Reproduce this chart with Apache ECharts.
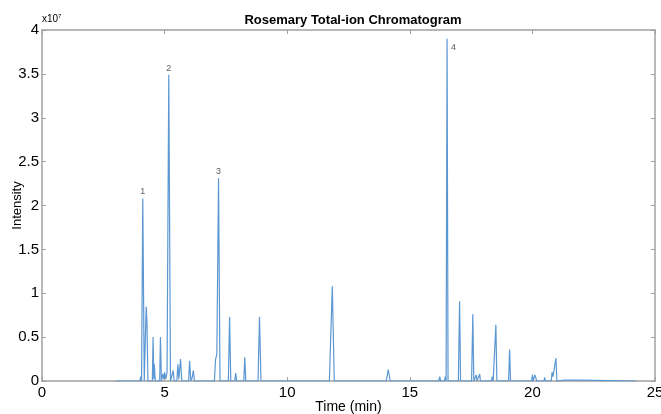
<!DOCTYPE html>
<html>
<head>
<meta charset="utf-8">
<script src="https://cdn.jsdelivr.net/npm/echarts@6/dist/echarts.min.js"></script>
<style>html,body{margin:0;padding:0;background:#fff}#c{width:661px;height:414px}</style>
</head>
<body>
<div id="c"></div>
<script>
// Retention time (min) and intensity (x10^7)
const retentionTime = [
  3.00, 4.00, 4.02, 4.06, 4.11, 4.17, 4.25, 4.28, 4.32, 4.50, 4.53, 4.56, 4.58, 4.62,
  4.80, 4.83, 4.87, 4.93, 4.97, 5.00, 5.05, 5.10, 5.17, 5.24, 5.32, 5.35, 5.39,
  5.50, 5.54, 5.58, 5.65, 5.70, 5.98, 6.02, 6.07, 6.12, 6.17, 6.22, 6.60, 6.63, 6.66,
  7.03, 7.08, 7.13, 7.20, 7.26, 7.60, 7.65, 7.70, 7.86, 7.90, 7.94, 8.23, 8.27, 8.31,
  8.81, 8.87, 8.93, 11.72, 11.84, 11.92, 14.04, 14.12, 14.20,
  16.18, 16.22, 16.26, 16.41, 16.45, 16.48, 16.52, 16.56,
  16.98, 17.03, 17.07, 17.52, 17.57, 17.61, 17.68, 17.71, 17.74, 17.82, 17.85, 17.88,
  18.33, 18.36, 18.40, 18.47, 18.51, 18.55, 18.70, 18.73, 18.76,
  19.03, 19.07, 19.11, 19.30, 19.33, 19.36, 19.49, 19.52, 19.55,
  19.97, 20.00, 20.03, 20.10, 20.14, 20.18, 20.47, 20.50, 20.53,
  20.68, 20.71, 20.74, 20.77, 20.80, 20.84, 20.96, 21.00, 21.30, 21.35, 22.00, 22.05, 24.25
];
const intensityE7 = [
  0, 0, 0.05, 0, 2.08, 0, 0.85, 0.67, 0, 0, 0.50, 0.02, 0.19, 0,
  0, 0.50, 0, 0.08, 0.02, 0.10, 0.02, 0.10, 3.49, 0, 0, 0.12, 0,
  0, 0.19, 0.02, 0.25, 0, 0, 0.23, 0, 0.03, 0.12, 0, 0, 0.01, 0,
  0, 0.25, 0.30, 2.31, 0, 0, 0.73, 0, 0, 0.09, 0, 0, 0.27, 0,
  0, 0.73, 0, 0, 1.08, 0, 0, 0.13, 0,
  0, 0.05, 0, 0, 0.05, 0, 3.90, 0,
  0, 0.91, 0, 0, 0.76, 0, 0, 0.07, 0, 0, 0.08, 0,
  0, 0.05, 0, 0, 0.64, 0, 0, 0.02, 0,
  0, 0.36, 0, 0, 0.02, 0, 0, 0.02, 0,
  0, 0.07, 0, 0.07, 0.08, 0, 0, 0.04, 0,
  0, 0.02, 0, 0, 0.10, 0.05, 0.26, 0, 0.01, 0, 0.01, 0, 0
];
// Numbered peak annotations
const peakNames = ['1', '2', '3', '4'];
const peakTimes = [4.11, 5.17, 7.20, 16.52];
const peakHeights = [2.08, 3.49, 2.31, 3.90];

const xTicks = [0, 5, 10, 15, 20, 25];
const yTicks = [0, 0.5, 1, 1.5, 2, 2.5, 3, 3.5, 4];

const lineData = retentionTime.map((t, i) => [t, intensityE7[i]]);
const labelData = peakTimes.map((t, i) => {
  const d = { value: [t, peakHeights[i]], name: peakNames[i] };
  if (peakNames[i] === '4') d.label = { position: 'right', distance: 4, offset: [0, 9] };
  return d;
});

const FONT = 'Liberation Sans, Arial, sans-serif';
const axisGrey = '#a0a0a0';

const chart = echarts.init(document.getElementById('c'), null, { renderer: 'canvas' });
chart.setOption({
  animation: false,
  backgroundColor: '#fff',
  title: {
    text: 'Rosemary Total-ion Chromatogram',
    left: 348, top: 9, textAlign: 'center',
    textStyle: { fontFamily: FONT, fontSize: 13, fontWeight: 'bold', color: '#000' }
  },
  graphic: [{
    type: 'text', left: 42, top: 13,
    style: {
      text: '{b|x10}{s|7}',
      rich: {
        b: { fontFamily: FONT, fontSize: 10, fill: '#000', verticalAlign: 'bottom' },
        s: { fontFamily: FONT, fontSize: 6, fill: '#000', verticalAlign: 'top', padding: [0, 0, 5, 0] }
      }
    }
  }],
  grid: { left: 42, right: 6, top: 30, bottom: 33, show: false, containLabel: false, outerBoundsMode: 'none' },
  xAxis: [{
    type: 'value', min: 0, max: 25, interval: 5,
    name: 'Time (min)', nameLocation: 'middle', nameGap: 19, nameMoveOverlap: false,
    nameTextStyle: { fontFamily: FONT, fontSize: 14, color: '#000' },
    axisLine: { show: true, onZero: false, lineStyle: { color: axisGrey, width: 1.5 } },
    axisTick: { show: true, inside: true, length: 4, lineStyle: { color: axisGrey } },
    axisLabel: { fontFamily: FONT, fontSize: 15, color: '#000', margin: 4,
      formatter: v => xTicks.includes(v) ? String(v) : '' },
    splitLine: { show: false }
  }, {
    type: 'value', min: 0, max: 25, interval: 5, position: 'top',
    axisLine: { show: true, onZero: false, lineStyle: { color: axisGrey, width: 1.5 } },
    axisTick: { show: true, inside: true, length: 4, lineStyle: { color: axisGrey } },
    axisLabel: { show: false }, splitLine: { show: false }
  }],
  yAxis: [{
    type: 'value', min: 0, max: 4, interval: 0.5,
    name: 'Intensity', nameLocation: 'middle', nameGap: 18, nameMoveOverlap: false,
    nameTextStyle: { fontFamily: FONT, fontSize: 13, color: '#000' },
    axisLine: { show: true, onZero: false, lineStyle: { color: axisGrey, width: 1.5 } },
    axisTick: { show: true, inside: true, length: 4, lineStyle: { color: axisGrey } },
    axisLabel: { fontFamily: FONT, fontSize: 15, color: '#000', margin: 3,
      formatter: v => yTicks.includes(v) ? String(v) : '' },
    splitLine: { show: false }
  }, {
    type: 'value', min: 0, max: 4, interval: 0.5, position: 'right',
    axisLine: { show: true, onZero: false, lineStyle: { color: axisGrey, width: 1.5 } },
    axisTick: { show: true, inside: true, length: 4, lineStyle: { color: axisGrey } },
    axisLabel: { show: false }, splitLine: { show: false }
  }],
  series: [{
    type: 'line', xAxisIndex: 0, yAxisIndex: 0,
    data: lineData, showSymbol: false, symbol: 'none',
    lineStyle: { color: '#5b97d3', width: 1.2 },
    z: 3
  }, {
    type: 'scatter', xAxisIndex: 0, yAxisIndex: 0,
    data: labelData, symbolSize: 0,
    label: {
      show: true, formatter: p => p.name,
      fontFamily: FONT, fontSize: 9, color: '#333',
      position: 'top', distance: 2
    },
    emphasis: { disabled: true },
    z: 4
  }]
});
</script>
</body>
</html>
